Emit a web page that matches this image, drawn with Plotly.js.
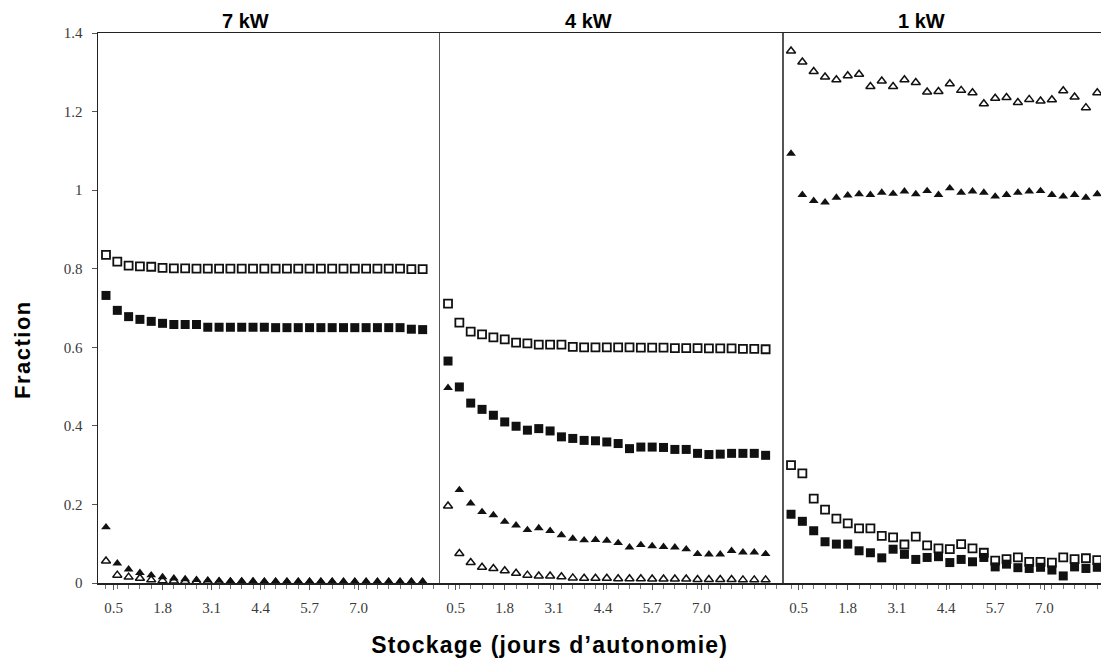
<!DOCTYPE html>
<html>
<head>
<meta charset="utf-8">
<script src="https://cdn.plot.ly/plotly-3.0.1.min.js"></script>
<style>
html, body { margin: 0; padding: 0; overflow: hidden; background: #fff; }
#chart { width: 1130px; height: 659px; }
#chart .annotation[data-index="4"] text { letter-spacing: 1.2px; }
#chart .annotation[data-index="3"] text { letter-spacing: 1.5px; }
</style>
</head>
<body>
<div id="chart"></div>
<script>
// Storage (days of autonomy) for each point
const days = [0.3,0.6,0.9,1.2,1.5,1.8,2.1,2.4,2.7,3.0,3.3,3.6,3.9,4.2,4.5,4.8,5.1,5.4,5.7,6.0,6.3,6.6,6.9,7.2,7.5,7.8,8.1,8.4,8.7];
const tickVals = [0.5, 1.8, 3.1, 4.4, 5.7, 7.0];
const tickText = ["0.5", "1.8", "3.1", "4.4", "5.7", "7.0"];
const yTickVals = [0, 0.2, 0.4, 0.6, 0.8, 1, 1.2, 1.4];
const yTickText = ["0", "0.2", "0.4", "0.6", "0.8", "1", "1.2", "1.4"];
const panels = ["7 kW", "4 kW", "1 kW"];

// 7 kW
const kw7_openSq  = [0.835,0.818,0.808,0.806,0.805,0.802,0.801,0.801,0.800,0.800,0.800,0.800,0.800,0.800,0.800,0.800,0.800,0.800,0.800,0.800,0.800,0.800,0.800,0.800,0.800,0.800,0.800,0.799,0.799];
const kw7_fillSq  = [0.732,0.694,0.678,0.671,0.666,0.661,0.658,0.658,0.658,0.651,0.651,0.651,0.651,0.651,0.651,0.650,0.650,0.650,0.650,0.650,0.650,0.650,0.650,0.650,0.650,0.650,0.650,0.646,0.645];
const kw7_fillTri = [0.142,0.050,0.035,0.026,0.020,0.015,0.012,0.010,0.008,0.007,0.006,0.005,0.005,0.005,0.004,0.004,0.004,0.004,0.004,0.004,0.004,0.003,0.003,0.003,0.003,0.003,0.003,0.003,0.003];
const kw7_openTri = [0.056,0.020,0.015,0.012,0.008,0.006,0.005,0.004,0.003,0.003,0.002,0.002,0.002,0.002,0.002,0.002,0.002,0.002,0.002,0.002,0.002,0.002,0.002,0.002,0.002,0.002,0.002,0.002,0.002];

// 4 kW
const kw4_openSq  = [0.711,0.663,0.640,0.633,0.625,0.620,0.612,0.610,0.607,0.607,0.607,0.601,0.600,0.600,0.600,0.600,0.600,0.599,0.599,0.599,0.598,0.598,0.598,0.597,0.597,0.597,0.596,0.596,0.595];
const kw4_fillSq  = [0.565,0.499,0.458,0.442,0.427,0.410,0.399,0.389,0.393,0.387,0.372,0.368,0.363,0.362,0.359,0.355,0.342,0.346,0.346,0.345,0.340,0.340,0.330,0.327,0.328,0.330,0.330,0.330,0.325];
const kw4_fillTri = [0.497,0.237,0.203,0.181,0.173,0.156,0.147,0.135,0.140,0.133,0.122,0.113,0.109,0.110,0.108,0.102,0.091,0.097,0.094,0.092,0.091,0.086,0.074,0.073,0.073,0.082,0.078,0.078,0.074];
const kw4_openTri = [0.196,0.075,0.052,0.040,0.037,0.031,0.025,0.020,0.018,0.018,0.016,0.013,0.012,0.012,0.012,0.011,0.011,0.011,0.010,0.010,0.010,0.010,0.009,0.009,0.009,0.009,0.008,0.008,0.008];

// 1 kW
const kw1_openTri = [1.354,1.326,1.302,1.288,1.281,1.291,1.295,1.264,1.278,1.264,1.281,1.274,1.250,1.251,1.271,1.254,1.248,1.220,1.234,1.236,1.223,1.231,1.227,1.230,1.253,1.237,1.210,1.248,1.240];
const kw1_fillTri = [1.093,0.988,0.973,0.969,0.981,0.987,0.990,0.988,0.994,0.991,0.997,0.990,0.998,0.988,1.005,0.994,0.997,0.994,0.984,0.988,0.994,0.997,0.998,0.988,0.984,0.988,0.981,0.990,0.988];
const kw1_openSq  = [0.300,0.279,0.215,0.187,0.164,0.152,0.139,0.139,0.120,0.116,0.098,0.118,0.096,0.088,0.086,0.099,0.088,0.077,0.057,0.061,0.065,0.054,0.054,0.052,0.065,0.061,0.063,0.058,0.060];
const kw1_fillSq  = [0.175,0.157,0.133,0.105,0.099,0.099,0.082,0.077,0.064,0.086,0.073,0.060,0.065,0.067,0.052,0.060,0.054,0.065,0.041,0.048,0.039,0.037,0.040,0.033,0.018,0.041,0.037,0.040,0.040];

const panelData = [
  {xa: 'x',  ya: 'y',  openSq: kw7_openSq, fillSq: kw7_fillSq, fillTri: kw7_fillTri, openTri: kw7_openTri},
  {xa: 'x2', ya: 'y2', openSq: kw4_openSq, fillSq: kw4_fillSq, fillTri: kw4_fillTri, openTri: kw4_openTri},
  {xa: 'x3', ya: 'y3', openSq: kw1_openSq, fillSq: kw1_fillSq, fillTri: kw1_fillTri, openTri: kw1_openTri}
];

const INK = '#111';
const styles = {
  openSq:  {symbol: 'square-open', size: 8, color: INK, line: {width: 1.8, color: INK}},
  fillSq:  {symbol: 'square', size: 9, color: INK},
  fillTri: {symbol: 'triangle-up', size: 8.5, color: INK},
  openTri: {symbol: 'triangle-up-open', size: 8, color: INK, line: {width: 1.5, color: INK}}
};

const traces = [];
panelData.forEach(p => {
  ['openSq', 'fillSq', 'fillTri', 'openTri'].forEach(k => {
    traces.push({
      type: 'scatter', mode: 'markers', x: days, y: p[k],
      xaxis: p.xa, yaxis: p.ya, marker: styles[k], showlegend: false,
      hoverinfo: 'x+y', cliponaxis: false
    });
  });
});

const W = 1130, ML = 98, MR = 4;
const plotW = W - ML - MR;
const d1 = 342 / plotW, d2 = 685 / plotW;
const xr = [0.088, 9.16];
const tickFont = {family: '"Liberation Serif", "DejaVu Serif", serif', size: 15, color: '#3a3a3a'};

function xAxis(domain, anchor) {
  return {
    domain: domain, anchor: anchor, range: xr, showgrid: false, zeroline: false,
    showline: true, linecolor: '#222', linewidth: 1.5, mirror: true,
    tickmode: 'array', tickvals: tickVals, ticktext: tickText,
    ticks: 'outside', ticklen: 5, tickcolor: '#555', tickwidth: 1,
    tickfont: tickFont, ticklabelstandoff: 5,
    minor: {ticks: 'outside', ticklen: 4, tickcolor: '#777', tickmode: 'linear', tick0: 0.3, dtick: 0.3, showgrid: false}
  };
}
function yAxis(anchor, main) {
  const a = {
    anchor: anchor, domain: [0, 1], range: [0, 1.4], showgrid: false, zeroline: false,
    showline: true, linecolor: main ? '#222' : '#555', linewidth: main ? 1.5 : 1, mirror: !main
  };
  if (main) {
    Object.assign(a, {tickmode: 'array', tickvals: yTickVals, ticktext: yTickText,
      ticks: 'outside', ticklen: 5, tickcolor: '#555', tickfont: tickFont, ticklabelstandoff: 6});
  } else {
    Object.assign(a, {matches: 'y', showticklabels: false, ticks: ''});
  }
  return a;
}

const titleFont = {family: '"Liberation Sans", Arial, sans-serif', size: 20, color: '#000', weight: 'bold'};
const pxToPaperX = px => (px - ML) / plotW;

const layout = {
  width: W, height: 659,
  margin: {l: ML, r: MR, t: 33, b: 76},
  paper_bgcolor: '#fff', plot_bgcolor: '#fff',
  xaxis: xAxis([0, d1], 'y'),
  xaxis2: xAxis([d1, d2], 'y2'),
  xaxis3: xAxis([d2, 1], 'y3'),
  yaxis: yAxis('x', true),
  yaxis2: yAxis('x2', false),
  yaxis3: yAxis('x3', false),
  annotations: [
    {text: panels[0], xref: 'paper', yref: 'paper', x: pxToPaperX(245), y: 1, yanchor: 'bottom', xanchor: 'center', showarrow: false, font: titleFont, yshift: -1},
    {text: panels[1], xref: 'paper', yref: 'paper', x: pxToPaperX(588), y: 1, yanchor: 'bottom', xanchor: 'center', showarrow: false, font: titleFont, yshift: -1},
    {text: panels[2], xref: 'paper', yref: 'paper', x: pxToPaperX(921), y: 1, yanchor: 'bottom', xanchor: 'center', showarrow: false, font: titleFont, yshift: -1},
    {text: 'Fraction', xref: 'paper', yref: 'paper', x: pxToPaperX(22), y: (583 - 350) / 550, xanchor: 'center', yanchor: 'middle', textangle: -90, showarrow: false,
     font: {family: '"Liberation Sans", Arial, sans-serif', size: 22, color: '#000', weight: 'bold'}},
    {text: 'Stockage (jours d’autonomie)', xref: 'paper', yref: 'paper', x: pxToPaperX(549), y: (583 - 645) / 550, xanchor: 'center', yanchor: 'middle', showarrow: false,
     font: {family: '"Liberation Sans", Arial, sans-serif', size: 23, color: '#000', weight: 'bold'}}
  ]
};

Plotly.newPlot('chart', traces, layout, {displayModeBar: false, responsive: false, staticPlot: true});
</script>
</body>
</html>
